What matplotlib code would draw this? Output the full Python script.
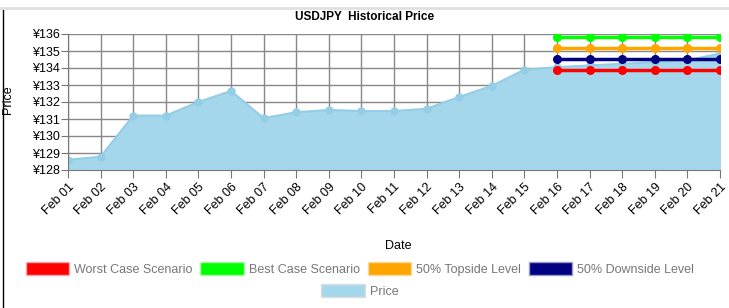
import numpy as np
import matplotlib
matplotlib.use('Agg')
import matplotlib.pyplot as plt
from matplotlib.patches import Patch
from matplotlib.lines import Line2D

dates = ['Feb %02d' % d for d in range(1, 22)]
price = [128.6, 128.78, 131.2, 131.2, 132.0, 132.65, 131.05, 131.4, 131.53, 131.47,
         131.47, 131.6, 132.3, 132.95, 133.9, 134.05, 134.15, 134.25, 134.35, 134.45, 134.85]
worst = [133.9] * 6
best = [135.8] * 6
topside = [135.2] * 6
downside = [134.55] * 6
yticks = list(range(128, 137))

plt.rcParams['font.family'] = ['Liberation Sans', 'DejaVu Sans']

fig = plt.figure(figsize=(7.29, 3.08), dpi=100)
ax = fig.add_axes([68/729, 1 - 170/308, (720 - 68)/729, (170 - 34)/308])

x = np.arange(len(dates))
xl = np.arange(15, 21)
ax.fill_between(x, 128, price, color='#a5d7ec', zorder=1)
ax.plot(x, price, color='#93cde6', lw=1.5, marker='o', ms=5, zorder=2)

ax.plot(xl, worst, color='#ff0000', lw=2.5, marker='o', ms=5.5, zorder=4)
ax.plot(xl, best, color='#00ff00', lw=2.5, marker='o', ms=5.5, zorder=4)
ax.plot(xl, topside, color='#ffa500', lw=2.5, marker='o', ms=5.5, zorder=4)
ax.plot(xl, downside, color='#000080', lw=2.5, marker='o', ms=5.5, zorder=4)

ax.set_xlim(0, 20)
ax.set_ylim(128, 136)
ax.set_xticks(x)
ax.set_xticklabels(dates, rotation=45, ha='right', rotation_mode='anchor', fontsize=9)
ax.set_yticks(yticks)
ax.set_yticklabels(['¥%d' % v for v in yticks], fontsize=9)
ax.grid(True, color='#888888', lw=1, zorder=0)
ax.set_axisbelow(True)
ax.tick_params(axis='x', length=6, color='#777777', pad=2)
ax.tick_params(axis='y', length=5, color='#777777', pad=1)
for s in ['top', 'right']:
    ax.spines[s].set_visible(False)
for s in ['left', 'bottom']:
    ax.spines[s].set_color('#777777')

fig.text(365/729, 1 - 17/308, 'USDJPY  Historical Price', ha='center', va='center',
         fontsize=8.5, fontweight='bold')
fig.text(8/729, 1 - 100/308, 'Price', rotation=90, ha='center', va='center', fontsize=9)
fig.text(398/729, 1 - 246/308, 'Date', ha='center', va='center', fontsize=9)

h1 = [Patch(facecolor='#ff0000', edgecolor='#ffaaaa'),
      Patch(facecolor='#00ff00', edgecolor='#aaffaa'),
      Patch(facecolor='#ffa500', edgecolor='#ffd89a'),
      Patch(facecolor='#000080', edgecolor='#9999cc')]
l1 = ['Worst Case Scenario', 'Best Case Scenario', '50% Topside Level', '50% Downside Level']
fig.legend(h1, l1, ncol=4, loc='center', bbox_to_anchor=(360/729, 1 - 269/308),
           frameon=False, fontsize=9, handlelength=3.5, handleheight=1.2,
           columnspacing=0.6, handletextpad=0.4, labelcolor='#777777')
fig.legend([Patch(facecolor='#a5d7ec', edgecolor='#dddddd')], ['Price'], loc='center',
           bbox_to_anchor=(360/729, 1 - 291/308), frameon=False, fontsize=9,
           handlelength=3.5, handleheight=1.2, handletextpad=0.4, labelcolor='#777777')

fig.add_artist(Line2D([2.5/729, 2.5/729], [0, 1 - 10/308], color='black', lw=1, transform=fig.transFigure))
fig.add_artist(Line2D([0, 1], [1 - 8/308, 1 - 8/308], color='#e0e0e0', lw=2, transform=fig.transFigure))

fig.savefig('out.png', dpi=100)
